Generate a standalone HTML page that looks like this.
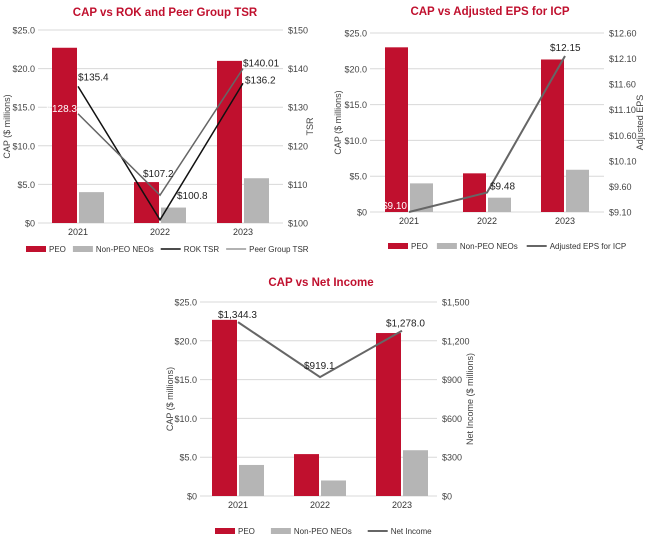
<!DOCTYPE html>
<html><head><meta charset="utf-8"><style>
body{margin:0;background:#fff;width:650px;height:542px;overflow:hidden;font-family:"Liberation Sans",sans-serif}
svg text{font-family:"Liberation Sans",sans-serif}
</style></head><body>
<svg id="s" width="650" height="542" xmlns="http://www.w3.org/2000/svg"></svg>
<script>
const years=["2021","2022","2023"];
const peo1=[22.7,5.3,21.0], non1=[4.0,2.0,5.8];
const rokTsr=[135.4,100.8,136.2], peerTsr=[128.3,107.2,140.01];
const rokLabels=["$135.4","$100.8","$136.2"], peerLabels=["$128.3","$107.2","$140.01"];
const peo2=[23.0,5.4,21.3], non2=[4.0,2.0,5.9];
const eps=[9.10,9.48,12.15], epsLabels=["$9.10","$9.48","$12.15"];
const peo3=[22.7,5.4,21.0], non3=[4.0,2.0,5.9];
const netInc=[1344.3,919.1,1278.0], niLabels=["$1,344.3","$919.1","$1,278.0"];
const leftTicks=["$0","$5.0","$10.0","$15.0","$20.0","$25.0"];
const tsrTicks=["$100","$110","$120","$130","$140","$150"];
const epsTicks=["$9.10","$9.60","$10.10","$10.60","$11.10","$11.60","$12.10","$12.60"];
const niTicks=["$0","$300","$600","$900","$1,200","$1,500"];
const NS="http://www.w3.org/2000/svg", S=document.getElementById('s');
function el(t,a,txt){const e=document.createElementNS(NS,t);for(const k in a)e.setAttribute(k,a[k]);if(txt!=null)e.textContent=txt;S.appendChild(e);return e;}
function chart(c){
  const y=v=>c.y0-(v/25)*(c.y0-c.y1);
  const ry=v=>c.y0-(v-c.rmin)/(c.rmax-c.rmin)*(c.y0-c.y1);
  let t=el('text',{x:c.tx,y:c.ty,'text-anchor':'middle','font-size':11.5,'font-weight':'bold',fill:'#c0102e'},c.title);
  
  
  leftTicks.forEach((lb,i)=>{const v=i*5,yy=y(v);
    let g=el('line',{x1:c.xl,x2:c.xr,y1:yy,y2:yy,stroke:'#d8d8d8','stroke-width':1});
    
    
    let l=el('text',{x:c.xl-3,y:yy+3.5,'text-anchor':'end','font-size':9,fill:'#444'},lb);
    
    });
  const n=c.rticks.length;
  c.rticks.forEach((lb,i)=>{const yy=c.y0-i/(n-1)*(c.y0-c.y1);
    let l=el('text',{x:c.xr+5,y:yy+3.5,'font-size':9,fill:'#444'},lb);
    
    });
  let a=el('text',{transform:`translate(${c.lax},${(c.y0+c.y1)/2}) rotate(-90)`,'text-anchor':'middle','font-size':9,fill:'#444'},'CAP ($ millions)');
  
  
  a=el('text',{transform:`translate(${c.rax},${(c.y0+c.y1)/2}) rotate(-90)`,'text-anchor':'middle','font-size':9,fill:'#444'},c.rtitle);
  
  
  years.forEach((yr,i)=>{const cx=c.cx[i];
    let b=el('rect',{x:cx-c.bw-1,y:y(c.peo[i]),width:c.bw,height:c.y0-y(c.peo[i]),fill:'#c0102e'});
    
    
    b=el('rect',{x:cx+1,y:y(c.non[i]),width:c.bw,height:c.y0-y(c.non[i]),fill:'#b5b5b5'});
    
    
    let l=el('text',{x:cx,y:c.y0+12,'text-anchor':'middle','font-size':9,fill:'#333'},yr);
    
    });
  c.lines.forEach(L=>{
    const pts=L.vals.map((v,i)=>[c.cx[i],ry(v)]);
    let p=el('polyline',{points:pts.map(p=>p.join(',')).join(' '),fill:'none',stroke:L.color,'stroke-width':L.w});
    
    
    pts.forEach((pt,i)=>{const o=L.off[i];
      let tl=el('text',{x:pt[0]+o[0],y:pt[1]+o[1],'font-size':10,fill:o[2]||'#222','text-anchor':o[3]||'start'},L.labels[i]);
      
      });
  });
  let x=c.legX;
  c.legend.forEach(it=>{
    if(it.type==='bar'){let r=el('rect',{x:x,y:c.legY-3,width:20,height:6,fill:it.color});x+=23;}
    else{let r=el('line',{x1:x,x2:x+20,y1:c.legY,y2:c.legY,stroke:it.color,'stroke-width':it.w});x+=23;}
    let lt=el('text',{x:x,y:c.legY+3,'font-size':8,fill:'#333'},it.label);
    
    
    x+=lt.getComputedTextLength()+c.legGap;
  });
}
chart({key:'tsr',title:'CAP vs ROK and Peer Group TSR',tx:165,ty:16,y0:223,y1:30,xl:38,xr:283,
  rmin:100,rmax:150,rticks:tsrTicks,lax:10,rax:313,rtitle:'TSR',cx:[78,160,243],bw:25,peo:peo1,non:non1,
  lines:[{key:'rok-tsr',vals:rokTsr,labels:rokLabels,color:'#111',w:1.5,off:[[0,-6],[17,-21],[2,0]]},
         {key:'peer-tsr',vals:peerTsr,labels:peerLabels,color:'#666',w:1.5,off:[[-1,-2,'#fff','end'],[-17,-18],[0,-2]]}],
  legX:26,legY:249,legGap:7,legend:[{type:'bar',color:'#c0102e',label:'PEO'},{type:'bar',color:'#b5b5b5',label:'Non-PEO NEOs'},{type:'line',color:'#111',w:1.5,label:'ROK TSR'},{type:'line',color:'#666',w:1,label:'Peer Group TSR'}]});
chart({key:'eps',title:'CAP vs Adjusted EPS for ICP',tx:490,ty:15,y0:212,y1:33,xl:370,xr:604,
  rmin:9.10,rmax:12.60,rticks:epsTicks,lax:341,rax:643,rtitle:'Adjusted EPS',cx:[409,487,565],bw:23,peo:peo2,non:non2,
  lines:[{key:'adjusted-eps',vals:eps,labels:epsLabels,color:'#666',w:2,off:[[-2,-3,'#fff','end'],[3,-3],[-15,-5]]}],
  legX:388,legY:246,legGap:9,legend:[{type:'bar',color:'#c0102e',label:'PEO'},{type:'bar',color:'#b5b5b5',label:'Non-PEO NEOs'},{type:'line',color:'#666',w:2,label:'Adjusted EPS for ICP'}]});
chart({key:'ni',title:'CAP vs Net Income',tx:321,ty:286,y0:496,y1:302,xl:200,xr:437,
  rmin:0,rmax:1500,rticks:niTicks,lax:173,rax:473,rtitle:'Net Income ($ millions)',cx:[238,320,402],bw:25,peo:peo3,non:non3,
  lines:[{key:'net-income',vals:netInc,labels:niLabels,color:'#666',w:2,off:[[-20,-4],[-16,-8],[-16,-4]]}],
  legX:215,legY:531,legGap:16,legend:[{type:'bar',color:'#c0102e',label:'PEO'},{type:'bar',color:'#b5b5b5',label:'Non-PEO NEOs'},{type:'line',color:'#666',w:2,label:'Net Income'}]});
</script>
</body></html>
